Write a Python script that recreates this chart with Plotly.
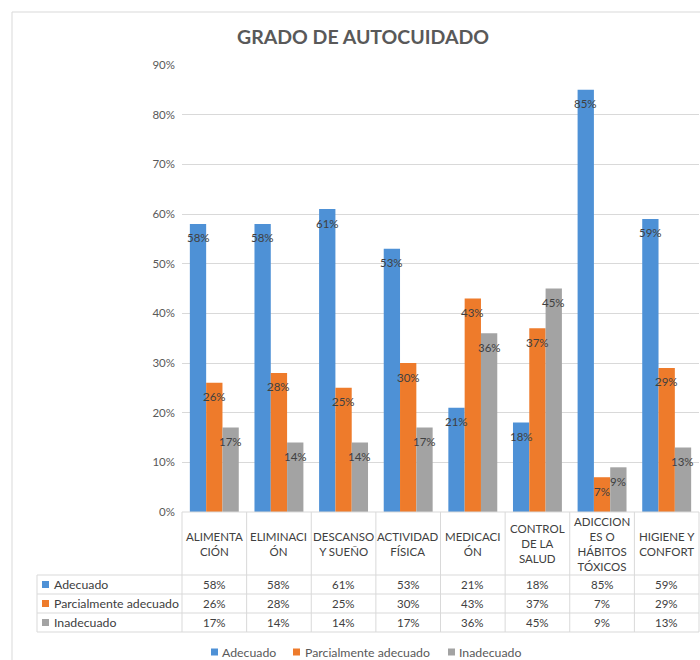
import plotly.graph_objects as go

# ---------------- data ----------------
categories = ["ALIMENTACIÓN", "ELIMINACIÓN", "DESCANSO Y SUEÑO", "ACTIVIDAD FÍSICA",
              "MEDICACIÓN", "CONTROL DE LA SALUD", "ADICCIONES O HÁBITOS TÓXICOS",
              "HIGIENE Y CONFORT"]
category_labels = ["ALIMENTA<br>CIÓN", "ELIMINACI<br>ÓN", "DESCANSO<br>Y SUEÑO",
                   "ACTIVIDAD<br>FÍSICA", "MEDICACI<br>ÓN", "CONTROL<br>DE LA<br>SALUD",
                   "ADICCION<br>ES O<br>HÁBITOS<br>TÓXICOS", "HIGIENE Y<br>CONFORT"]
series_names = ["Adecuado", "Parcialmente adecuado", "Inadecuado"]
adecuado = [58, 58, 61, 53, 21, 18, 85, 59]
parcialmente = [26, 28, 25, 30, 43, 37, 7, 29]
inadecuado = [17, 14, 14, 17, 36, 45, 9, 13]
y_ticks = [0, 10, 20, 30, 40, 50, 60, 70, 80, 90]

series_values = [adecuado, parcialmente, inadecuado]
colors = ["#4E91D6", "#EE7B2B", "#A3A3A3"]

# ---------------- geometry (pixels) ----------------
W_FIG, H_FIG = 700, 660
X0, X1 = 182, 699      # plot area left/right
YT, YB = 65, 512       # plot area top/bottom
PW, PH = X1 - X0, YB - YT
FONT = "Lato, 'Open Sans', sans-serif"
GRID = "#d9d9d9"
TXT = "#404040"


def px(x):
    """screen x -> paper x"""
    return (x - X0) / PW


def py(y):
    """screen y -> paper y"""
    return (YB - y) / PH


fig = go.Figure()
for name, vals, col in zip(series_names, series_values, colors):
    fig.add_trace(go.Bar(name=name, x=categories, y=[v / 100 for v in vals],
                         marker=dict(color=col, line=dict(width=0)), showlegend=False,
                         hoverinfo="skip"))

n = len(categories)
bar_px = PW / n * (1 - 0.243) / 3

annotations = []
# data labels
for si, vals in enumerate(series_values):
    for c, v in zip(categories, vals):
        annotations.append(dict(x=c, y=v / 100, xref="x", yref="y", text=f"{v}%",
                                showarrow=False, xshift=(si - 1) * bar_px, yshift=-14,
                                font=dict(size=11.5, color=TXT, family=FONT)))

# table header (category labels)
for c, lab in zip(categories, category_labels):
    annotations.append(dict(x=c, y=py(543.5), xref="x", yref="paper", text=lab,
                            showarrow=False, yanchor="middle",
                            font=dict(size=11.5, color=TXT, family=FONT)))

# table rows
row_lines = [575, 594, 613, 632]
for si, (name, vals, col) in enumerate(zip(series_names, series_values, colors)):
    yc = (row_lines[si] + row_lines[si + 1]) / 2
    for c, v in zip(categories, vals):
        annotations.append(dict(x=c, y=py(yc), xref="x", yref="paper", text=f"{v}%",
                                showarrow=False, yanchor="middle",
                                font=dict(size=11.5, color=TXT, family=FONT)))
    annotations.append(dict(x=px(52), y=py(yc), xref="paper", yref="paper", text=name,
                            showarrow=False, xanchor="left", yanchor="middle",
                            font=dict(size=12.3, color=TXT, family=FONT)))

# bottom legend (manual, Excel style)
legend_x = [(211, 220), (293, 303), (448, 457)]
for (sx, tx), name in zip(legend_x, series_names):
    annotations.append(dict(x=px(tx), y=py(652), xref="paper", yref="paper", text=name,
                            showarrow=False, xanchor="left", yanchor="middle",
                            font=dict(size=12.3, color="#595959", family=FONT)))

# title
annotations.append(dict(x=px(363), y=py(37), xref="paper", yref="paper",
                        text="<b>GRADO DE AUTOCUIDADO</b>", showarrow=False,
                        xanchor="center", yanchor="middle",
                        font=dict(size=19.5, color="#595959", family=FONT)))

shapes = []
line = dict(color=GRID, width=1)
# outer chart border
shapes.append(dict(type="rect", xref="paper", yref="paper", x0=px(12), x1=px(730),
                   y0=py(12), y1=py(700), line=dict(color="#d9d9d9", width=1)))
# table top
shapes.append(dict(type="line", xref="paper", yref="paper", x0=0, x1=1,
                   y0=0, y1=0, line=line))
# table horizontal lines
for yl in row_lines:
    shapes.append(dict(type="line", xref="paper", yref="paper", x0=px(37), x1=1,
                       y0=py(yl), y1=py(yl), line=line))
# table vertical lines
for i in range(n + 1):
    shapes.append(dict(type="line", xref="paper", yref="paper", x0=i / n, x1=i / n,
                       y0=0, y1=py(632), line=line))
shapes.append(dict(type="line", xref="paper", yref="paper", x0=px(37), x1=px(37),
                   y0=py(575), y1=py(632), line=line))
# legend keys inside table
for si, col in enumerate(colors):
    yc = (row_lines[si] + row_lines[si + 1]) / 2
    shapes.append(dict(type="rect", xref="paper", yref="paper", x0=px(42), x1=px(49),
                       y0=py(yc - 3.5), y1=py(yc + 3.5), line=dict(width=0),
                       fillcolor=col))
# bottom legend keys
for (sx, tx), col in zip(legend_x, colors):
    shapes.append(dict(type="rect", xref="paper", yref="paper", x0=px(sx), x1=px(sx + 7),
                       y0=py(652 - 3.5), y1=py(652 + 3.5), line=dict(width=0),
                       fillcolor=col))

fig.update_layout(
    width=W_FIG, height=H_FIG,
    margin=dict(l=X0, r=W_FIG - X1, t=YT, b=H_FIG - YB, pad=0),
    paper_bgcolor="white", plot_bgcolor="white",
    barmode="group", bargap=0.243, bargroupgap=0,
    font=dict(family=FONT, color="#595959"),
    showlegend=False,
    hovermode=False,
    xaxis=dict(showticklabels=False, showgrid=False, zeroline=False, showline=False,
               ticks="", range=[-0.5, n - 0.5]),
    yaxis=dict(range=[0, 0.9], tickvals=[t / 100 for t in y_ticks],
               ticktext=[f"{t}%" for t in y_ticks], showgrid=True, gridcolor=GRID,
               gridwidth=1, zeroline=False, showline=False, ticks="",
               tickfont=dict(size=11.5, color="#595959", family=FONT),
               ticklabelstandoff=6),
    annotations=annotations, shapes=shapes,
)

# remove the default 8px page margin so the 700x660 figure fills the window exactly
fig.write_html("out.html",
               config={"displayModeBar": False},
               post_script="document.body.style.margin='0';"
                           "document.body.style.overflow='hidden';")
